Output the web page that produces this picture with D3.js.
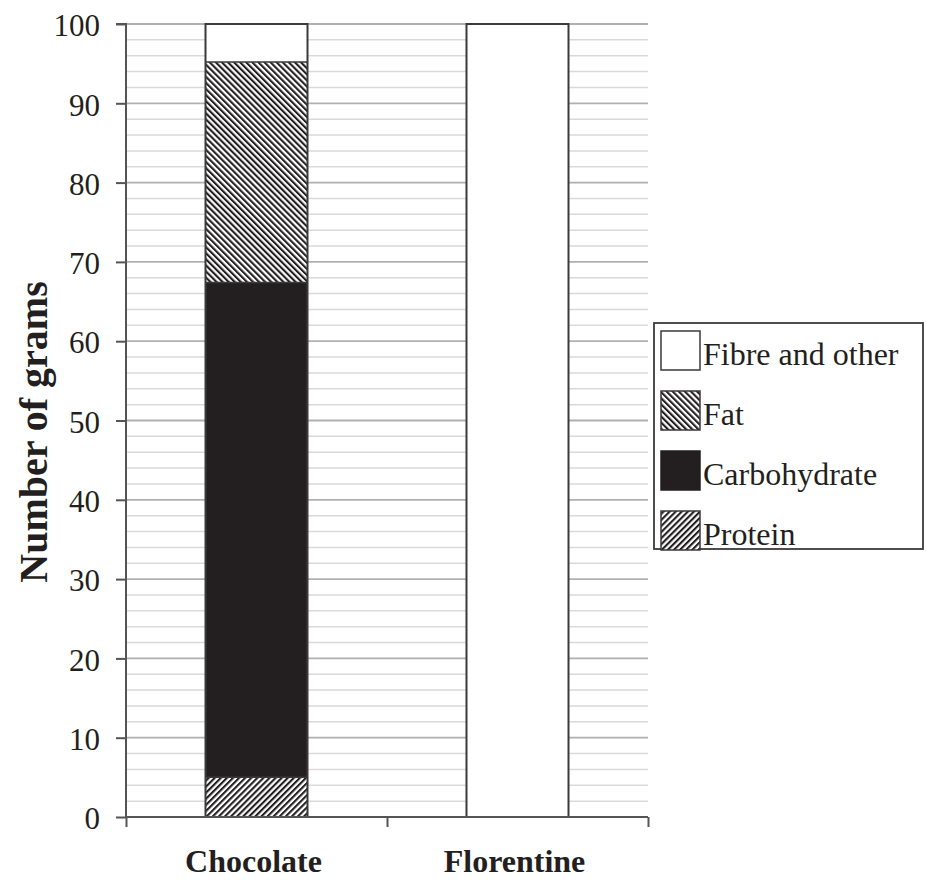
<!DOCTYPE html>
<html><head><meta charset="utf-8">
<script src="https://cdn.jsdelivr.net/npm/d3@7"></script>
<style>body{margin:0;background:#fff}</style>
</head><body><svg id="c" width="926" height="881"></svg>
<script>
const categories = ["Chocolate", "Florentine"];
const seriesNames = ["Protein", "Carbohydrate", "Fat", "Fibre and other"];
const protein = [5, 0];
const carbohydrate = [62.4, 0];
const fat = [27.8, 0];
const fibre = [4.8, 100];
const yTicks = [0,10,20,30,40,50,60,70,80,90,100];

const svg = d3.select("#c");
const font = "'Liberation Serif','Times New Roman',serif";
const m = {l:126, r:648, t:24, b:817};
const band = d3.scaleBand().domain(categories).range([m.l, m.r]).paddingInner(0).paddingOuter(0);
const barW = 102;
const y = d3.scaleLinear().domain([0,100]).range([m.b, m.t]);

const defs = svg.append("defs");
function hatch(id, angle){
  const p = defs.append("pattern").attr("id", id).attr("patternUnits","userSpaceOnUse")
    .attr("width",4.3).attr("height",10).attr("patternTransform",`rotate(${angle})`);
  p.append("rect").attr("width",4.3).attr("height",10).attr("fill","#fff");
  p.append("rect").attr("width",2.1).attr("height",10).attr("fill","#231f20");
}
hatch("fatP", -45);
hatch("protP", 45);
const fills = {"Protein":"url(#protP)","Carbohydrate":"#231f20","Fat":"url(#fatP)","Fibre and other":"#fff"};

// gridlines
const minor = d3.range(2, 100, 2).filter(v => v % 10 !== 0);
svg.append("g").selectAll("line").data(minor).join("line")
  .attr("x1", m.l).attr("x2", m.r).attr("y1", d=>y(d)).attr("y2", d=>y(d))
  .attr("stroke","#d9d9d9").attr("stroke-width",1.5);
svg.append("g").selectAll("line").data(yTicks.filter(d=>d>0)).join("line")
  .attr("x1", m.l).attr("x2", m.r).attr("y1", d=>y(d)).attr("y2", d=>y(d))
  .attr("stroke","#b0b0b0").attr("stroke-width",1.8);

// stacked bars
const rows = categories.map((c,i)=>({cat:c, "Protein":protein[i], "Carbohydrate":carbohydrate[i], "Fat":fat[i], "Fibre and other":fibre[i]}));
const stacked = d3.stack().keys(seriesNames)(rows);
const bx = c => band(c) + band.bandwidth()/2 - barW/2;
const bars = svg.append("g");
stacked.forEach(s=>{
  bars.selectAll(null).data(s.filter(d=>d[1]-d[0]>0)).join("rect")
    .attr("x", d=> bx(d.data.cat)).attr("width", barW)
    .attr("y", d=>y(d[1])).attr("height", d=>y(d[0])-y(d[1]))
    .attr("fill", fills[s.key]);
});
svg.append("g").selectAll("rect").data(rows).join("rect")
  .attr("x", d=> bx(d.cat)).attr("width", barW)
  .attr("y", y(100)).attr("height", y(0)-y(100))
  .attr("fill","none").attr("stroke","#3a3a3a").attr("stroke-width",2);
stacked.forEach(s=>{
  svg.append("g").selectAll("line").data(s.filter(d=>d[1]-d[0]>0 && d[1]<100)).join("line")
    .attr("x1", d=> bx(d.data.cat)).attr("x2", d=> bx(d.data.cat) + barW)
    .attr("y1", d=>y(d[1])).attr("y2", d=>y(d[1]))
    .attr("stroke","#3a3a3a").attr("stroke-width",1.5);
});

// axes
const yAxis = svg.append("g").attr("transform",`translate(${m.l},0)`)
  .call(d3.axisLeft(y).tickValues(yTicks).tickSize(10).tickPadding(16));
yAxis.select(".domain").attr("stroke","#555").attr("stroke-width",2).attr("d",`M-10,${y(100)}H0V${y(0)}`);
yAxis.selectAll(".tick line").attr("stroke","#555").attr("stroke-width",2);
yAxis.selectAll(".tick text").attr("font-family",font).attr("font-size",31).attr("fill","#231f20").attr("dy","0.38em");

const xAxisScale = d3.scaleLinear().domain([0,2]).range([m.l, m.r]);
const xAxis = svg.append("g").attr("transform",`translate(0,${m.b})`)
  .call(d3.axisBottom(xAxisScale).tickValues([0,1,2]).tickSize(10).tickFormat(""));
xAxis.select(".domain").attr("stroke","#555").attr("stroke-width",2).attr("d",`M${m.l},0H${m.r}`);
xAxis.selectAll(".tick line").attr("stroke","#555").attr("stroke-width",2);

svg.append("g").selectAll("text").data(categories).join("text")
  .attr("x", d=>band(d)+band.bandwidth()/2 - 3).attr("y", 872)
  .attr("text-anchor","middle").attr("font-family",font).attr("font-weight","bold")
  .attr("font-size",32).attr("fill","#231f20").text(d=>d);

svg.append("text").attr("transform",`translate(47,432) rotate(-90)`)
  .attr("text-anchor","middle").attr("font-family",font).attr("font-weight","bold")
  .attr("font-size",40).attr("fill","#231f20").text("Number of grams");

// legend
const lg = svg.append("g");
lg.append("rect").attr("x",654).attr("y",323).attr("width",269).attr("height",226)
  .attr("fill","#fff").attr("stroke","#3a3a3a").attr("stroke-width",1.8);
const legendItems = seriesNames.slice().reverse();
const ly = d3.scalePoint().domain(legendItems).range([350, 530]);
lg.selectAll("rect.sw").data(legendItems).join("rect").attr("class","sw")
  .attr("x",661).attr("y",d=>ly(d)-19).attr("width",39).attr("height",39)
  .attr("fill",d=>fills[d]).attr("stroke",d=>d==="Carbohydrate"?"#231f20":"#3a3a3a").attr("stroke-width",1.5);
lg.selectAll("text").data(legendItems).join("text")
  .attr("x",703).attr("y",d=>ly(d)+15)
  .attr("font-family",font).attr("font-size",32).attr("fill","#231f20").text(d=>d);
</script></body></html>
